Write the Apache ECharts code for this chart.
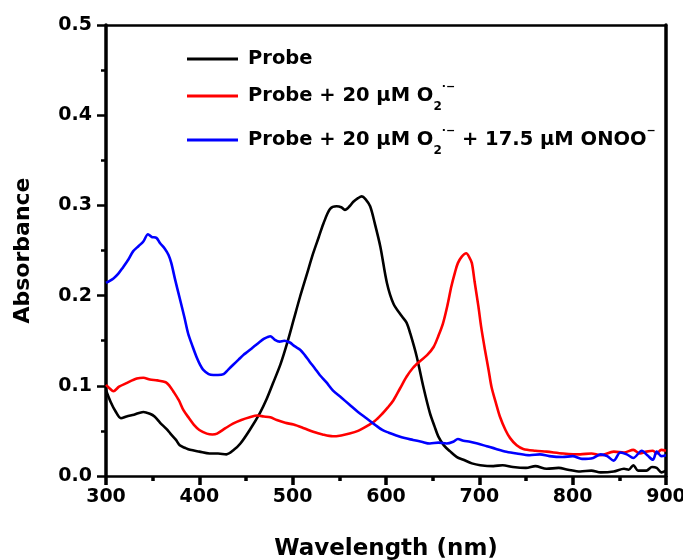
<!DOCTYPE html>
<html>
<head>
<meta charset="utf-8">
<script src="https://cdn.jsdelivr.net/npm/echarts@6/dist/echarts.min.js"></script>
<style>
  html, body { margin: 0; padding: 0; background: #fff; }
  #main { width: 683px; height: 560px; }
</style>
</head>
<body>
<div id="main"></div>
<script>
// 波长 / 吸光度数据
var probeWl = [300, 305, 310, 316, 322, 330, 340, 347, 352, 358, 365, 369, 375, 379, 385, 390, 400, 411, 420, 429, 437, 444, 454, 465, 472, 479, 487, 494, 501, 508, 515, 522, 528, 533, 540, 547, 552, 556, 561, 565, 570, 574, 578, 583, 588, 594, 601, 608, 617, 622, 626, 633, 640, 647, 652, 656, 662, 669, 676, 683, 692, 701, 715, 725, 736, 750, 760, 772, 785, 795, 808, 820, 830, 844, 855, 860, 865, 870, 879, 885, 890, 895, 900];
var probeAbs = [0.095, 0.082, 0.072, 0.064, 0.066, 0.068, 0.071, 0.069, 0.066, 0.059, 0.052, 0.047, 0.040, 0.034, 0.031, 0.029, 0.027, 0.025, 0.025, 0.024, 0.029, 0.036, 0.051, 0.070, 0.085, 0.103, 0.124, 0.147, 0.173, 0.199, 0.223, 0.247, 0.265, 0.280, 0.296, 0.299, 0.298, 0.295, 0.299, 0.304, 0.308, 0.310, 0.307, 0.299, 0.280, 0.254, 0.214, 0.191, 0.177, 0.170, 0.158, 0.132, 0.099, 0.070, 0.055, 0.044, 0.034, 0.027, 0.021, 0.018, 0.014, 0.012, 0.011, 0.012, 0.010, 0.009, 0.011, 0.008, 0.009, 0.007, 0.005, 0.006, 0.004, 0.005, 0.008, 0.007, 0.012, 0.006, 0.006, 0.010, 0.009, 0.004, 0.006];

var o2Wl = [300, 304, 308, 314, 322, 333, 340, 347, 355, 364, 368, 372, 378, 383, 389, 394, 400, 408, 414, 419, 428, 436, 445, 454, 462, 469, 476, 483, 492, 501, 512, 522, 532, 543, 552, 561, 570, 579, 588, 596, 602, 608, 615, 622, 629, 636, 644, 651, 656, 661, 666, 670, 674, 677, 681, 686, 689, 692, 695, 699, 702, 706, 710, 713, 718, 722, 728, 733, 740, 747, 760, 772, 790, 808, 820, 830, 844, 855, 865, 872, 879, 886, 890, 895, 900];
var o2Abs = [0.101, 0.097, 0.094, 0.099, 0.103, 0.108, 0.109, 0.107, 0.106, 0.104, 0.100, 0.094, 0.084, 0.073, 0.064, 0.057, 0.051, 0.047, 0.046, 0.047, 0.053, 0.058, 0.062, 0.065, 0.067, 0.066, 0.065, 0.062, 0.059, 0.057, 0.053, 0.049, 0.046, 0.044, 0.045, 0.047, 0.050, 0.055, 0.061, 0.069, 0.076, 0.084, 0.097, 0.110, 0.120, 0.127, 0.134, 0.143, 0.155, 0.169, 0.190, 0.210, 0.226, 0.236, 0.243, 0.247, 0.243, 0.236, 0.215, 0.188, 0.165, 0.140, 0.117, 0.099, 0.080, 0.066, 0.051, 0.042, 0.034, 0.030, 0.028, 0.027, 0.025, 0.024, 0.025, 0.023, 0.027, 0.026, 0.029, 0.025, 0.027, 0.028, 0.025, 0.029, 0.028];

var onooWl = [300, 308, 313, 318, 324, 329, 335, 340, 345, 349, 354, 358, 363, 367, 370, 374, 379, 384, 388, 393, 397, 401, 404, 410, 415, 420, 426, 431, 436, 442, 447, 452, 458, 464, 469, 473, 476, 481, 486, 491, 497, 502, 508, 513, 518, 524, 529, 536, 543, 552, 561, 570, 579, 588, 596, 603, 611, 620, 629, 638, 647, 656, 665, 672, 677, 683, 690, 698, 708, 718, 729, 740, 754, 765, 775, 789, 800, 810, 822, 830, 837, 844, 851, 858, 865, 874, 880, 886, 890, 895, 900];
var onooAbs = [0.214, 0.219, 0.224, 0.231, 0.240, 0.249, 0.255, 0.260, 0.268, 0.265, 0.264, 0.258, 0.252, 0.245, 0.236, 0.218, 0.197, 0.176, 0.158, 0.143, 0.132, 0.123, 0.118, 0.113, 0.112, 0.112, 0.113, 0.118, 0.123, 0.129, 0.134, 0.138, 0.143, 0.148, 0.152, 0.154, 0.155, 0.151, 0.149, 0.150, 0.148, 0.144, 0.140, 0.134, 0.127, 0.119, 0.112, 0.104, 0.095, 0.087, 0.079, 0.071, 0.064, 0.057, 0.051, 0.048, 0.045, 0.042, 0.040, 0.038, 0.036, 0.037, 0.036, 0.038, 0.041, 0.039, 0.038, 0.036, 0.033, 0.030, 0.027, 0.025, 0.023, 0.024, 0.022, 0.021, 0.022, 0.019, 0.020, 0.024, 0.022, 0.017, 0.026, 0.024, 0.020, 0.028, 0.023, 0.018, 0.027, 0.022, 0.023];

var seriesNames = ['Probe', 'Probe + 20 μM O2', 'Probe + 20 μM O2 + ONOO'];
var legendLabels = [
    'Probe',
    'Probe + 20 μM O{sub|2}{sup|·−}',
    'Probe + 20 μM O{sub|2}{sup|·−} + 17.5 μM ONOO{sup|−}'
];
var xTicks = { min: 300, max: 900, step: 100 };
var yTicks = { min: 0, max: 0.5, step: 0.1 };

function pairs(xs, ys) {
    var out = [];
    for (var i = 0; i < xs.length; i++) out.push([xs[i], ys[i]]);
    return out;
}

window.addEventListener('load', function () {
    var myChart = echarts.init(document.getElementById('main'));
    var font = 'DejaVu Sans';
    var lineW = 2.6;
    var vW = 3.5;   // vertical axis lines look thicker
    var hW = 2.5;

    // bare axis used only for the top / right frame
    function frameX() {
        return {
            type: 'value', position: 'top', min: xTicks.min, max: xTicks.max,
            axisLine: { onZero: false, lineStyle: { color: '#000', width: hW } },
            axisTick: { show: false }, axisLabel: { show: false }, splitLine: { show: false }
        };
    }
    function frameY() {
        return {
            type: 'value', position: 'right', min: yTicks.min, max: yTicks.max,
            axisLine: { onZero: false, lineStyle: { color: '#000', width: vW } },
            axisTick: { show: false }, axisLabel: { show: false }, splitLine: { show: false }
        };
    }

    var option = {
        animation: false,
        backgroundColor: '#fff',
        textStyle: { fontFamily: font },
        grid: { left: 106, right: 17, top: 25, bottom: 84, outerBoundsMode: 'none', containLabel: false },
        legend: {
            orient: 'vertical',
            left: 182, top: 44,
            icon: 'rect',
            itemWidth: 51, itemHeight: 3, itemGap: 13,
            data: seriesNames,
            formatter: function (name) {
                return legendLabels[seriesNames.indexOf(name)];
            },
            textStyle: {
                fontFamily: font, fontWeight: 'bold', fontSize: 19.5, color: '#000',
                padding: [0, 0, 0, 5],
                rich: {
                    sub: { fontFamily: font, fontWeight: 'bold', fontSize: 12, verticalAlign: 'bottom', lineHeight: 12, padding: [0, 0, -7, 0], color: '#000' },
                    sup: { fontFamily: font, fontWeight: 'bold', fontSize: 11, verticalAlign: 'top', lineHeight: 12, padding: [-4, 0, 0, 0], color: '#000' }
                }
            }
        },
        xAxis: [{
            type: 'value',
            min: xTicks.min, max: xTicks.max, interval: xTicks.step,
            name: 'Wavelength (nm)', nameLocation: 'middle', nameGap: 62,
            nameTextStyle: { fontFamily: font, fontWeight: 'bold', fontSize: 23, color: '#000' },
            axisLine: { onZero: false, lineStyle: { color: '#000', width: hW } },
            axisTick: { inside: false, length: 9, lineStyle: { width: vW, color: '#000' } },
            minorTick: { show: true, splitNumber: 2, length: 5, lineStyle: { width: vW, color: '#000' } },
            axisLabel: { fontFamily: font, fontWeight: 'bold', fontSize: 19, color: '#000', margin: 12 },
            splitLine: { show: false }
        }, frameX()],
        yAxis: [{
            type: 'value',
            min: yTicks.min, max: yTicks.max, interval: yTicks.step,
            name: 'Absorbance', nameLocation: 'middle', nameGap: 72, nameRotate: 90,
            nameTextStyle: { fontFamily: font, fontWeight: 'bold', fontSize: 22, color: '#000' },
            axisLine: { onZero: false, lineStyle: { color: '#000', width: vW } },
            axisTick: { inside: false, length: 9, lineStyle: { width: hW, color: '#000' } },
            minorTick: { show: true, splitNumber: 2, length: 5, lineStyle: { width: hW, color: '#000' } },
            axisLabel: {
                fontFamily: font, fontWeight: 'bold', fontSize: 19, color: '#000', margin: 14,
                formatter: function (v) { return v.toFixed(1); }
            },
            splitLine: { show: false }
        }, frameY()],
        series: [
            {
                name: seriesNames[0], type: 'line', symbol: 'none', smooth: 0.3,
                lineStyle: { color: '#000000', width: lineW }, itemStyle: { color: '#000000' },
                data: pairs(probeWl, probeAbs)
            },
            {
                name: seriesNames[1], type: 'line', symbol: 'none', smooth: 0.3,
                lineStyle: { color: '#ff0000', width: lineW }, itemStyle: { color: '#ff0000' },
                data: pairs(o2Wl, o2Abs)
            },
            {
                name: seriesNames[2], type: 'line', symbol: 'none', smooth: 0.3,
                lineStyle: { color: '#0000ff', width: lineW }, itemStyle: { color: '#0000ff' },
                data: pairs(onooWl, onooAbs)
            }
        ]
    };
    myChart.setOption(option);
});
</script>
</body>
</html>
